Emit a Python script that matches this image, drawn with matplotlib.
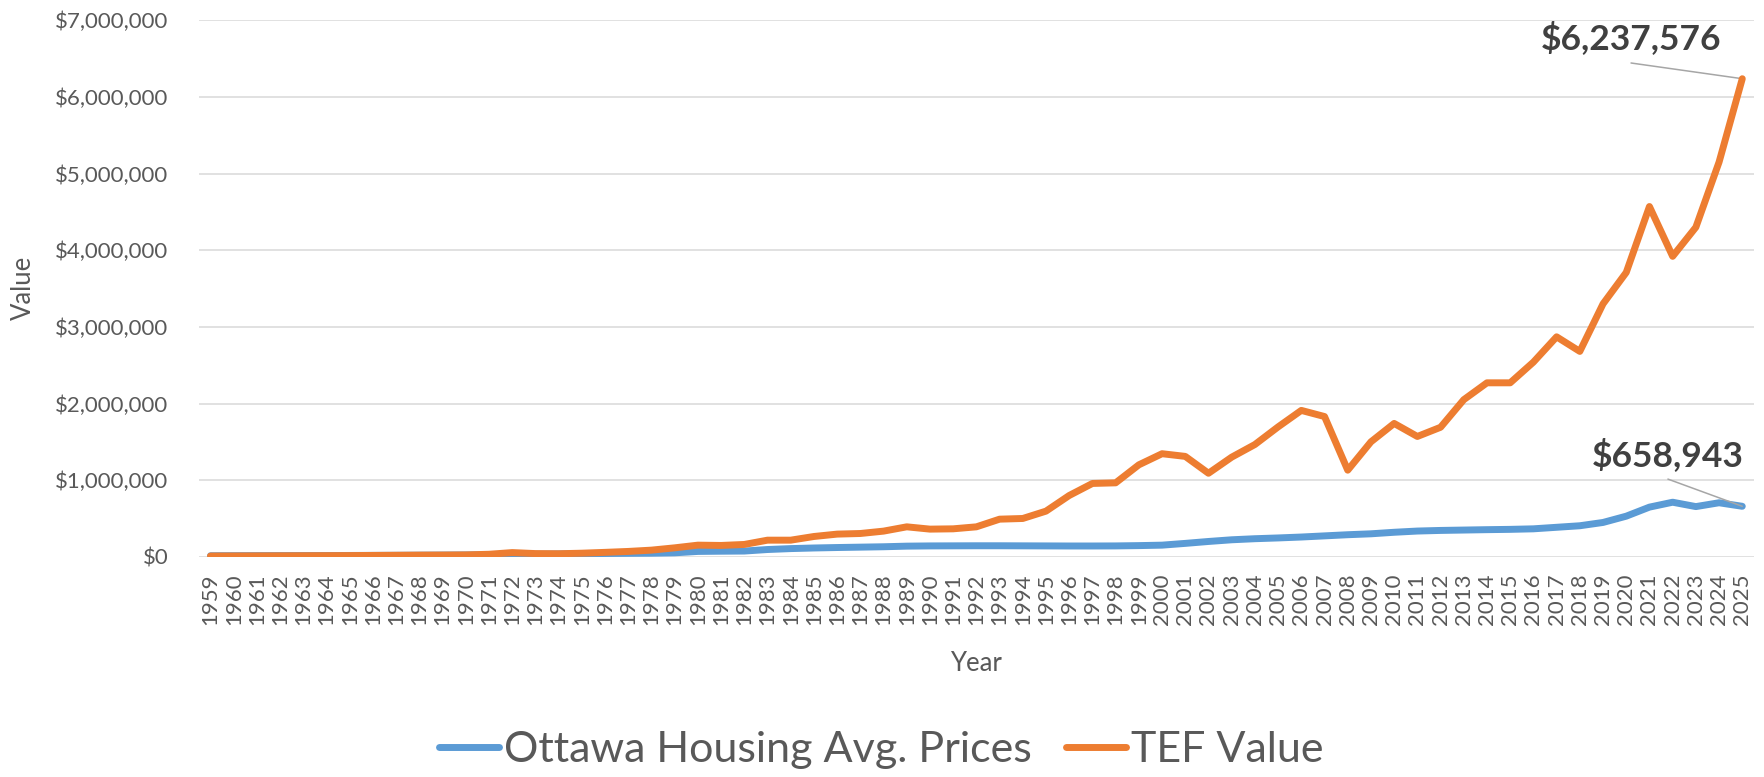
import matplotlib.pyplot as plt
from matplotlib.ticker import FuncFormatter, MultipleLocator

years = list(range(1959, 2026))

# Ottawa average house price, 1959 .. 2025
ottawa_prices = [
    14000, 14500, 15000, 15500, 16000, 16500, 17500, 18500, 19500, 21000,      # 1959-1968
    22500, 24000, 26000, 29000, 33000, 37000, 40000, 43000, 45000, 47000,      # 1969-1978
    52000, 70000, 73000, 75000, 95000, 107000, 115000, 121000, 126000, 131000,  # 1979-1988
    139000, 142000, 143000, 144000, 144000, 143000, 142000, 141000, 141000, 142000,  # 1989-1998
    146000, 152000, 175000, 200000, 222000, 236000, 246000, 258000, 273000, 288000,  # 1999-2008
    300000, 320000, 336000, 344000, 349000, 354000, 358000, 365000, 385000, 405000,  # 2009-2018
    448000, 530000, 648000, 712000, 655000, 705000, 658943,                     # 2019-2025
]

# TEF value, 1959 .. 2025
tef_value = [
    10000, 11000, 12000, 13000, 14000, 15000, 16000, 18000, 20000, 22000,      # 1959-1968
    23000, 25000, 33000, 55000, 42000, 40000, 47000, 58000, 70000, 87000,      # 1969-1978
    117000, 152000, 148000, 161000, 217000, 217000, 265000, 296000, 304000, 335000,  # 1979-1988
    391000, 361000, 365000, 391000, 491000, 500000, 596000, 800000, 957000, 965000,  # 1989-1998
    1200000, 1345000, 1310000, 1090000, 1300000, 1465000, 1695000, 1910000, 1830000, 1130000,  # 1999-2008
    1500000, 1740000, 1570000, 1690000, 2050000, 2270000, 2270000, 2540000, 2870000, 2680000,  # 2009-2018
    3300000, 3710000, 4570000, 3920000, 4300000, 5150000, 6237576,              # 2019-2025
]

blue = '#5B9BD5'
orange = '#ED7D31'
text_grey = '#595959'
label_grey = '#404040'

plt.rcParams['font.family'] = ['Lato', 'DejaVu Sans']

fig = plt.figure(figsize=(17.65, 7.77), dpi=100)
ax = fig.add_axes([0.1127, 0.2834, 0.8810, 0.6905])

ax.plot(years, ottawa_prices, color=blue, lw=5, solid_joinstyle='round',
        solid_capstyle='round', label='Ottawa Housing Avg. Prices', zorder=3)
ax.plot(years, tef_value, color=orange, lw=5, solid_joinstyle='round',
        solid_capstyle='round', label='TEF Value', zorder=4)

# axes
ax.set_xlim(years[0] - 0.5, years[-1] + 0.5)
ax.set_ylim(0, 7000000)
ax.yaxis.set_major_locator(MultipleLocator(1000000))
ax.yaxis.set_major_formatter(FuncFormatter(lambda v, p: f'${v:,.0f}'))
ax.set_xticks(years)
ax.set_xticklabels([str(y) for y in years], rotation=90)
ax.grid(axis='y', color='#D9D9D9', lw=1.1)
ax.set_axisbelow(True)
for s in ax.spines.values():
    s.set_visible(False)
ax.tick_params(axis='both', length=0, labelsize=16, labelcolor=text_grey)
ax.tick_params(axis='y', pad=22)
ax.tick_params(axis='x', pad=12)

# axis titles
fig.text(23 / 1765, 1 - 288 / 777, 'Value', rotation=90, ha='center', va='center',
         fontsize=18.5, color=text_grey)
fig.text(976 / 1765, 1 - 670.7 / 777, 'Year', ha='center', va='baseline',
         fontsize=18.5, color=text_grey)

# end-of-series labels
ax.annotate(f'${tef_value[-1]:,}', xy=(years[-1], tef_value[-1]),
            xytext=(0.9241, 0.9367), textcoords='figure fraction',
            ha='center', va='baseline', fontsize=25.5, fontweight='bold', color=label_grey,
            arrowprops=dict(arrowstyle='-', color='#A6A6A6', lw=1.1, patchA=None,
                            shrinkA=0, shrinkB=0, relpos=(0.5, -0.23)))
ax.annotate(f'${ottawa_prices[-1]:,}', xy=(years[-1], ottawa_prices[-1]),
            xytext=(0.9450, 0.4003), textcoords='figure fraction',
            ha='center', va='baseline', fontsize=25.5, fontweight='bold', color=label_grey,
            arrowprops=dict(arrowstyle='-', color='#A6A6A6', lw=1.1, patchA=None,
                            shrinkA=0, shrinkB=0, relpos=(0.5, -0.21)))

fig.legend(loc='center', bbox_to_anchor=(0.4992, 0.0347), ncol=2, frameon=False,
           fontsize=31, handlelength=1.4, handletextpad=0.1, columnspacing=0.8,
           labelcolor=text_grey)

fig.savefig('out.png', dpi=100)
